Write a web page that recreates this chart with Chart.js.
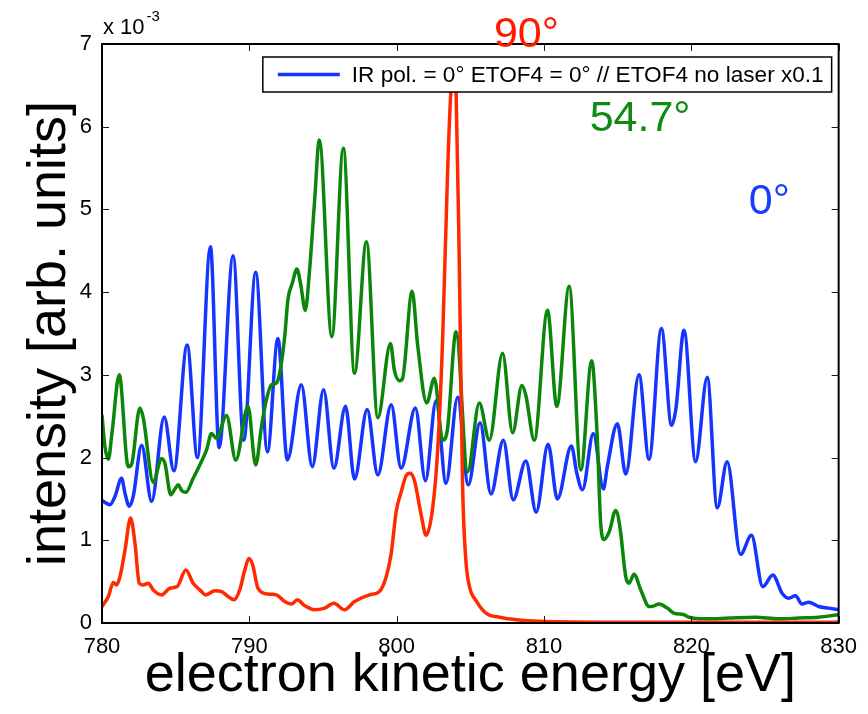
<!DOCTYPE html>
<html>
<head>
<meta charset="utf-8">
<title>Electron kinetic energy spectra</title>
<script src="https://cdn.jsdelivr.net/npm/chart.js@4.4.1/dist/chart.umd.min.js"></script>
<style>
  html, body { margin: 0; padding: 0; background: #ffffff; }
  #wrap { width: 868px; height: 714px; }
  canvas { display: block; }
</style>
</head>
<body>
<div id="wrap"><canvas id="spectra" width="868" height="714"></canvas></div>
<script>
// Spectra as [kinetic energy (eV), intensity (x 1e-3 arb. units)]
const spectrum0deg = [
  [780.0, 1.48], [780.54, 1.43], [780.88, 1.53], [781.33, 1.75], [781.56, 1.57], [781.85, 1.41],
  [782.12, 1.53], [782.69, 2.15], [783.37, 1.47], [784.22, 2.49], [784.88, 1.84], [785.78, 3.36],
  [786.48, 2.00], [787.36, 4.55], [787.95, 2.12], [788.90, 4.44], [789.62, 2.21], [790.43, 4.24],
  [791.23, 2.07], [791.94, 3.44], [792.58, 1.97], [793.53, 2.88], [794.27, 1.89], [795.04, 2.82],
  [795.74, 1.87], [796.53, 2.62], [797.14, 1.74], [798.00, 2.58], [798.72, 1.79], [799.63, 2.64],
  [800.30, 1.87], [801.27, 2.60], [801.95, 1.72], [802.68, 2.69], [803.35, 1.69], [804.14, 2.73],
  [804.86, 1.67], [805.66, 2.42], [806.40, 1.56], [807.24, 2.21], [807.91, 1.49], [808.77, 1.96],
  [809.47, 1.34], [810.28, 2.16], [810.91, 1.50], [811.86, 2.14], [812.23, 1.81], [812.61, 1.61],
  [813.35, 2.29], [814.03, 1.62], [814.30, 1.89], [814.98, 2.41], [815.55, 1.80], [816.45, 3.00],
  [817.13, 1.98], [817.97, 3.56], [818.66, 2.39], [818.96, 2.60], [819.50, 3.54], [820.29, 1.95],
  [821.08, 2.97], [821.76, 1.39], [822.43, 1.95], [823.34, 0.83], [824.08, 1.06], [824.85, 0.44],
  [825.53, 0.58], [826.16, 0.36], [826.61, 0.30], [827.07, 0.33], [827.51, 0.23], [827.97, 0.25],
  [828.64, 0.20], [829.32, 0.18], [830.0, 0.16]
];

const spectrum54deg = [
  [780.0, 2.51], [780.20, 2.13], [780.43, 1.98], [780.68, 2.30], [781.17, 3.00], [781.78, 1.89],
  [782.01, 1.92], [782.57, 2.60], [782.80, 2.48], [783.48, 1.70], [784.04, 1.99], [784.27, 1.93],
  [784.67, 1.55], [784.95, 1.62], [785.17, 1.67], [785.42, 1.60], [785.69, 1.58], [786.19, 1.75],
  [786.64, 1.91], [787.09, 2.09], [787.43, 2.29], [787.77, 2.23], [788.45, 2.51], [789.08, 1.97],
  [789.91, 2.62], [790.43, 1.91], [790.82, 2.37], [791.16, 2.70], [791.50, 2.88], [791.84, 2.90],
  [792.06, 3.02], [792.40, 3.46], [792.62, 3.91], [792.92, 4.11], [793.23, 4.28], [793.48, 4.10],
  [793.80, 3.78], [794.09, 4.27], [794.43, 5.10], [794.75, 5.84], [795.60, 3.46], [796.38, 5.74],
  [797.14, 3.02], [797.95, 4.61], [798.72, 2.48], [799.58, 3.38], [799.85, 3.05], [800.19, 2.93],
  [800.39, 2.95], [801.05, 4.01], [801.43, 3.35], [802.04, 2.66], [802.56, 2.96], [803.12, 2.21],
  [803.44, 2.33], [804.03, 3.52], [804.82, 1.83], [805.61, 2.66], [806.29, 2.21], [807.19, 3.26],
  [807.87, 2.30], [808.50, 2.87], [808.77, 2.75], [809.34, 2.21], [810.24, 3.78], [810.87, 2.62],
  [811.71, 4.07], [812.50, 1.85], [813.24, 3.17], [813.60, 2.30], [813.85, 1.20], [814.08, 1.01],
  [814.42, 1.10], [814.87, 1.36], [815.16, 1.15], [815.55, 0.56], [815.77, 0.48], [816.11, 0.59],
  [816.57, 0.40], [817.13, 0.20], [817.33, 0.20], [817.80, 0.23], [818.37, 0.18], [818.82, 0.12],
  [819.50, 0.10], [819.84, 0.07], [820.97, 0.05], [822.55, 0.06], [824.36, 0.07], [825.93, 0.05],
  [827.29, 0.06], [828.64, 0.07], [830.0, 0.10]
];

const spectrum90deg = [
  [780.0, 0.20], [780.43, 0.32], [780.77, 0.49], [781.0, 0.46], [781.22, 0.56], [781.56, 0.88],
  [781.94, 1.27], [782.24, 0.96], [782.53, 0.48], [782.78, 0.46], [783.14, 0.48], [783.48, 0.40],
  [784.04, 0.34], [784.61, 0.42], [785.10, 0.44], [785.69, 0.64], [786.19, 0.48], [786.64, 0.40],
  [787.05, 0.34], [787.66, 0.39], [788.11, 0.38], [788.56, 0.32], [788.96, 0.28], [789.35, 0.40],
  [789.69, 0.64], [789.98, 0.78], [790.23, 0.70], [790.59, 0.42], [791.27, 0.35], [791.84, 0.34],
  [792.40, 0.26], [792.85, 0.23], [793.26, 0.28], [793.75, 0.21], [794.43, 0.16], [795.11, 0.18],
  [795.74, 0.24], [796.46, 0.16], [797.14, 0.26], [798.16, 0.34], [798.83, 0.38], [799.29, 0.56],
  [799.63, 0.84], [799.97, 1.35], [800.30, 1.58], [800.64, 1.78], [800.91, 1.81], [801.21, 1.72],
  [801.66, 1.31], [802.00, 1.06], [802.45, 1.40], [802.78, 2.08], [803.12, 3.43], [803.46, 5.47],
  [803.69, 6.46], [803.85, 6.75], [804.03, 6.45], [804.25, 4.36], [804.47, 1.70], [804.68, 0.80],
  [804.93, 0.45], [805.39, 0.27], [806.06, 0.12], [806.96, 0.07], [808.10, 0.04], [809.67, 0.02],
  [813.74, 0.01], [820.5, 0.01], [830.0, 0.01]
];

// Axis ranges and ticks
const energyTicks = [780, 790, 800, 810, 820, 830];
const intensityTicks = [0, 1, 2, 3, 4, 5, 6, 7];
const intensityExponent = '-3';

// Text labels
const legendText = 'IR pol. = 0\u00b0 ETOF4 = 0\u00b0 // ETOF4 no laser x0.1';
const angleLabels = [
  { text: '90\u00b0', x: 806.6, y: 6.96, color: '#ff1a00' },
  { text: '54.7\u00b0', x: 813.1, y: 5.95, color: '#118a11' },
  { text: '0\u00b0', x: 823.9, y: 4.95, color: '#1a3cff' }
];

const FONT = "'Liberation Sans', Arial, Helvetica, sans-serif";
const BLUE = '#1634ff';
const GREEN = '#0b860b';
const RED = '#ff2a00';

const toPoints = arr => arr.map(([x, y]) => ({ x, y }));

// Frame, inward ticks, in-axes legend, angle labels and exponent
const axesDecor = {
  id: 'axesDecor',
  afterDatasetsDraw(chart) {
    const { ctx, chartArea: a, scales: { x, y } } = chart;
    ctx.save();

    // inward tick marks on all four sides
    ctx.strokeStyle = '#1a1a1a';
    ctx.lineWidth = 1;
    ctx.beginPath();
    energyTicks.forEach(v => {
      const px = Math.round(x.getPixelForValue(v)) + 0.5;
      ctx.moveTo(px, a.bottom); ctx.lineTo(px, a.bottom - 7);
      ctx.moveTo(px, a.top); ctx.lineTo(px, a.top + 7);
    });
    intensityTicks.forEach(v => {
      const py = Math.round(y.getPixelForValue(v)) + 0.5;
      ctx.moveTo(a.left, py); ctx.lineTo(a.left + 7, py);
      ctx.moveTo(a.right, py); ctx.lineTo(a.right - 7, py);
    });
    ctx.stroke();

    // axes box
    ctx.strokeStyle = '#000';
    ctx.lineWidth = 2;
    ctx.strokeRect(a.left, a.top, a.right - a.left, a.bottom - a.top);

    // legend box inside the axes, top right
    ctx.font = '22.6px ' + FONT;
    const tw = ctx.measureText(legendText).width;
    const boxH = 35;
    const boxW = 15 + 62 + 12 + tw + 8;
    const bx = a.right - 7 - boxW;
    const by = a.top + 13;
    ctx.fillStyle = '#fff';
    ctx.fillRect(bx, by, boxW, boxH);
    ctx.lineWidth = 1.5;
    ctx.strokeStyle = '#000';
    ctx.strokeRect(bx, by, boxW, boxH);
    ctx.strokeStyle = BLUE;
    ctx.lineWidth = 3.5;
    ctx.beginPath();
    ctx.moveTo(bx + 15, by + boxH / 2);
    ctx.lineTo(bx + 77, by + boxH / 2);
    ctx.stroke();
    ctx.fillStyle = '#000';
    ctx.textAlign = 'left';
    ctx.textBaseline = 'middle';
    ctx.fillText(legendText, bx + 89, by + boxH / 2 + 1);

    // angle labels
    ctx.textBaseline = 'alphabetic';
    ctx.font = '43px ' + FONT;
    angleLabels.forEach(l => {
      ctx.fillStyle = l.color;
      ctx.fillText(l.text, x.getPixelForValue(l.x), y.getPixelForValue(l.y));
    });

    // axis multiplier
    ctx.fillStyle = '#000';
    ctx.font = '22px ' + FONT;
    const base = 'x 10';
    ctx.fillText(base, a.left + 1, a.top - 10);
    const bw = ctx.measureText(base).width;
    ctx.font = '15px ' + FONT;
    ctx.fillText(intensityExponent, a.left + 3 + bw, a.top - 23);

    ctx.restore();
  }
};

new Chart(document.getElementById('spectra'), {
  type: 'line',
  data: {
    datasets: [
      { label: '90\u00b0', data: toPoints(spectrum90deg), borderColor: RED, order: 0 },
      { label: '54.7\u00b0', data: toPoints(spectrum54deg), borderColor: GREEN, order: 1 },
      { label: legendText, data: toPoints(spectrum0deg), borderColor: BLUE, order: 2 }
    ]
  },
  options: {
    responsive: false,
    animation: false,
    devicePixelRatio: 1,
    layout: { padding: { left: 0, right: 28, top: 44, bottom: 0 } },
    plugins: { legend: { display: false }, tooltip: { enabled: false } },
    elements: {
      point: { radius: 0 },
      line: {
        borderWidth: 3.5,
        cubicInterpolationMode: 'monotone',
        borderJoinStyle: 'round',
        borderCapStyle: 'round',
        fill: false
      }
    },
    scales: {
      x: {
        type: 'linear',
        min: energyTicks[0],
        max: energyTicks[energyTicks.length - 1],
        afterFit: s => { s.height = 91; },
        afterBuildTicks: s => { s.ticks = energyTicks.map(v => ({ value: v })); },
        grid: { display: false, drawTicks: false },
        border: { display: false },
        ticks: {
          padding: 11, color: '#000', maxRotation: 0, autoSkip: false,
          font: { family: FONT, size: 22 }
        },
        title: {
          display: true, text: 'electron kinetic energy [eV]', color: '#000',
          font: { family: FONT, size: 54 }, padding: { top: 0, bottom: 5 }
        }
      },
      y: {
        type: 'linear',
        min: intensityTicks[0],
        max: intensityTicks[intensityTicks.length - 1],
        afterFit: s => { s.width = 102; },
        afterBuildTicks: s => { s.ticks = intensityTicks.map(v => ({ value: v })); },
        grid: { display: false, drawTicks: false },
        border: { display: false },
        ticks: {
          padding: 10, color: '#000', autoSkip: false,
          font: { family: FONT, size: 22 }
        },
        title: {
          display: true, text: 'intensity [arb. units]', color: '#000',
          font: { family: FONT, size: 54 }, padding: { top: 18, bottom: 0 }
        }
      }
    }
  },
  plugins: [axesDecor]
});
</script>
</body>
</html>
